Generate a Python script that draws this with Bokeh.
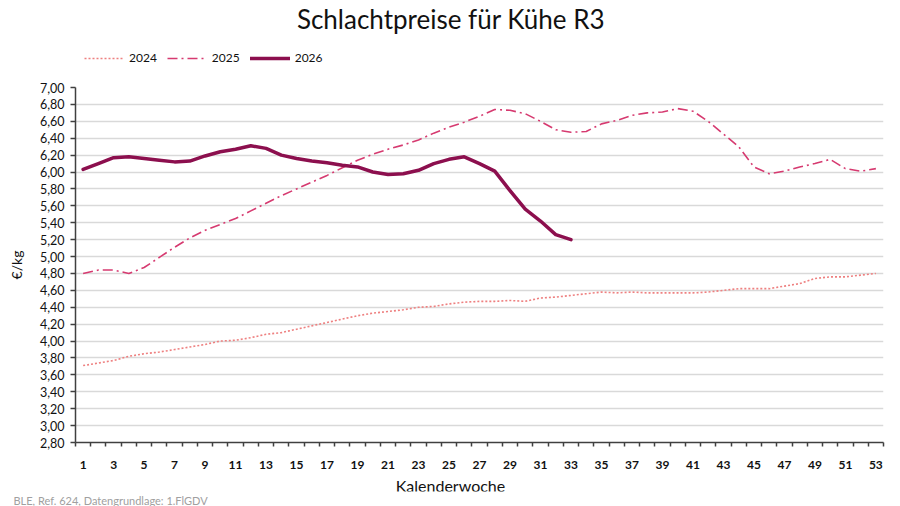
from bokeh.plotting import figure
from bokeh.models import (Range1d, FixedTicker, CustomJSTickFormatter, Legend, LegendItem,
                          Label, Title, ColumnDataSource)
from bokeh.layouts import column
from bokeh.embed import file_html
from bokeh.resources import INLINE

weeks = list(range(1, 54))

prices_2024 = [3.71, 3.74, 3.77, 3.82, 3.85, 3.87, 3.90, 3.93, 3.96, 4.00,
               4.01, 4.04, 4.08, 4.10, 4.14, 4.18, 4.22, 4.26, 4.30, 4.33,
               4.35, 4.37, 4.40, 4.41, 4.44, 4.46, 4.47, 4.47, 4.48, 4.47,
               4.51, 4.52, 4.54, 4.56, 4.58, 4.57, 4.58, 4.57, 4.57, 4.57,
               4.57, 4.58, 4.60, 4.62, 4.62, 4.62, 4.65, 4.68, 4.74, 4.76,
               4.76, 4.78, 4.80]

prices_2025 = [4.80, 4.84, 4.84, 4.80, 4.87, 4.99, 5.11, 5.22, 5.31, 5.38,
               5.45, 5.54, 5.63, 5.72, 5.80, 5.88, 5.96, 6.05, 6.14, 6.21,
               6.27, 6.32, 6.38, 6.46, 6.53, 6.59, 6.66, 6.74, 6.73, 6.69,
               6.60, 6.50, 6.47, 6.48, 6.57, 6.61, 6.67, 6.70, 6.71, 6.75,
               6.72, 6.60, 6.45, 6.30, 6.06, 5.98, 6.01, 6.06, 6.10, 6.15,
               6.04, 6.01, 6.04]

prices_2026 = [6.03, 6.10, 6.17, 6.18, 6.16, 6.14, 6.12, 6.13, 6.19, 6.24,
               6.27, 6.31, 6.28, 6.20, 6.16, 6.13, 6.11, 6.08, 6.06, 6.00,
               5.97, 5.98, 6.02, 6.10, 6.15, 6.18, 6.10, 6.01, 5.78, 5.56,
               5.42, 5.26, 5.20]

series_names = ["2024", "2025", "2026"]
y_ticks = [2.8, 3.0, 3.2, 3.4, 3.6, 3.8, 4.0, 4.2, 4.4, 4.6, 4.8, 5.0, 5.2,
           5.4, 5.6, 5.8, 6.0, 6.2, 6.4, 6.6, 6.8, 7.0]
x_label_weeks = list(range(1, 54, 2))

title_text = "Schlachtpreise für Kühe R3"
x_title = "Kalenderwoche"
y_title = "€/kg"
source_note = "BLE, Ref. 624, Datengrundlage: 1.FlGDV"

FONT = "Lato"
TEXT = "#111111"
C24, C25, C26 = "#ee8080", "#d63a70", "#8c0f4e"
STYLE24 = dict(line_color=C24, line_width=1.6, line_dash="2 2")
STYLE25 = dict(line_color=C25, line_width=1.6, line_dash="10 4 2 4")
STYLE26 = dict(line_color=C26, line_width=3.5, line_join="round", line_cap="round")

W = 900
LEFT, RIGHT, TOP = 75, 17, 5
HEAD_H, MAIN_H, FOOT_H = 82, 390, 34
NAN = float("nan")


def bare(fig, top):
    fig.axis.visible = False
    fig.grid.visible = False
    fig.outline_line_color = None
    fig.min_border_left = LEFT
    fig.min_border_right = RIGHT
    fig.min_border_top = top
    fig.min_border_bottom = 0
    return fig


# ---------- header: title + legend ----------
head = bare(figure(width=W, height=HEAD_H, output_backend="svg", toolbar_location=None,
                   title=None, x_range=Range1d(LEFT, W - RIGHT),
                   y_range=Range1d(0, HEAD_H - TOP)), TOP)
head.add_layout(Label(x=450.5, y=HEAD_H - 18, y_units="screen", text=title_text,
                      text_align="center", text_baseline="alphabetic", text_font=FONT,
                      text_font_size="26px", text_color=TEXT))
h24 = head.line(x=[NAN], y=[NAN], **STYLE24)
h25 = head.line(x=[NAN], y=[NAN], **STYLE25)
h26 = head.line(x=[NAN], y=[NAN], **STYLE26)
legend = Legend(items=[LegendItem(label=series_names[0], renderers=[h24]),
                       LegendItem(label=series_names[1], renderers=[h25]),
                       LegendItem(label=series_names[2], renderers=[h26])],
                orientation="horizontal", location=(9, HEAD_H - 65),
                glyph_width=40, glyph_height=14, label_standoff=5, spacing=10,
                padding=0, margin=0, border_line_color=None, background_fill_alpha=0,
                label_text_font=FONT, label_text_font_size="12px", label_text_color=TEXT,
                label_height=14)
head.add_layout(legend)

# ---------- main chart ----------
p = figure(width=W, height=MAIN_H, output_backend="svg", toolbar_location=None,
           x_range=Range1d(0.5, 53.5), y_range=Range1d(2.8, 7.0),
           min_border_left=LEFT, min_border_right=RIGHT, min_border_top=TOP,
           min_border_bottom=30,
           background_fill_color="white", border_fill_color="white")
p.outline_line_color = None

p.xgrid.visible = False
p.ygrid.ticker = FixedTicker(ticks=y_ticks)
p.ygrid.grid_line_color = "#d9d9d9"
p.ygrid.grid_line_width = 1.5

p.yaxis.ticker = FixedTicker(ticks=y_ticks)
p.yaxis.formatter = CustomJSTickFormatter(code="return tick.toFixed(2).replace('.', ',');")
p.yaxis.axis_line_color = "#404040"
p.yaxis.axis_line_width = 1.5
p.yaxis.major_tick_line_color = "#404040"
p.yaxis.major_tick_line_width = 1.5
p.yaxis.major_tick_out = 5
p.yaxis.major_tick_in = 0
p.yaxis.minor_tick_line_color = None
p.yaxis.major_label_standoff = 6
p.yaxis.major_label_text_font = FONT
p.yaxis.major_label_text_font_size = "12.5px"
p.yaxis.major_label_text_color = TEXT
p.yaxis.axis_label = y_title
p.yaxis.axis_label_text_font = FONT
p.yaxis.axis_label_text_font_size = "14px"
p.yaxis.axis_label_text_font_style = "normal"
p.yaxis.axis_label_text_color = TEXT
p.yaxis.axis_label_standoff = 12

minor = [w - 0.5 for w in weeks] + [53.5]
p.xaxis.ticker = FixedTicker(ticks=x_label_weeks, minor_ticks=minor)
p.xaxis.axis_line_color = "#404040"
p.xaxis.axis_line_width = 1.5
p.xaxis.major_tick_line_color = None
p.xaxis.major_tick_out = 0
p.xaxis.major_tick_in = 0
p.xaxis.minor_tick_line_color = "#404040"
p.xaxis.minor_tick_line_width = 1.5
p.xaxis.minor_tick_out = 4
p.xaxis.minor_tick_in = 0
p.xaxis.major_label_standoff = 14
p.xaxis.major_label_text_font = FONT
p.xaxis.major_label_text_font_size = "12px"
p.xaxis.major_label_text_font_style = "bold"
p.xaxis.major_label_text_color = TEXT

src24 = ColumnDataSource(dict(x=weeks, y=prices_2024))
src25 = ColumnDataSource(dict(x=weeks, y=prices_2025))
src26 = ColumnDataSource(dict(x=weeks[:len(prices_2026)], y=prices_2026))

p.line("x", "y", source=src24, **STYLE24)
p.line("x", "y", source=src25, **STYLE25)
p.line("x", "y", source=src26, **STYLE26)

# ---------- footer: x title + source ----------
foot = bare(figure(width=W, height=FOOT_H, output_backend="svg", toolbar_location=None,
                   title=None, x_range=Range1d(LEFT, W - RIGHT), y_range=Range1d(0, 1)), 0)
foot.add_layout(Title(text=source_note, align="left", offset=13 - LEFT, standoff=0,
                      text_font=FONT, text_font_size="11px", text_font_style="normal",
                      text_color="#a0a0a0"), "below")
foot.add_layout(Label(x=450, y=6.5, y_units="screen", text=x_title, text_align="center",
                      text_baseline="alphabetic", text_font=FONT, text_font_size="16px",
                      text_color=TEXT))

layout = column(head, p, foot, spacing=0)
open("out.html", "w").write(file_html(layout, INLINE))
